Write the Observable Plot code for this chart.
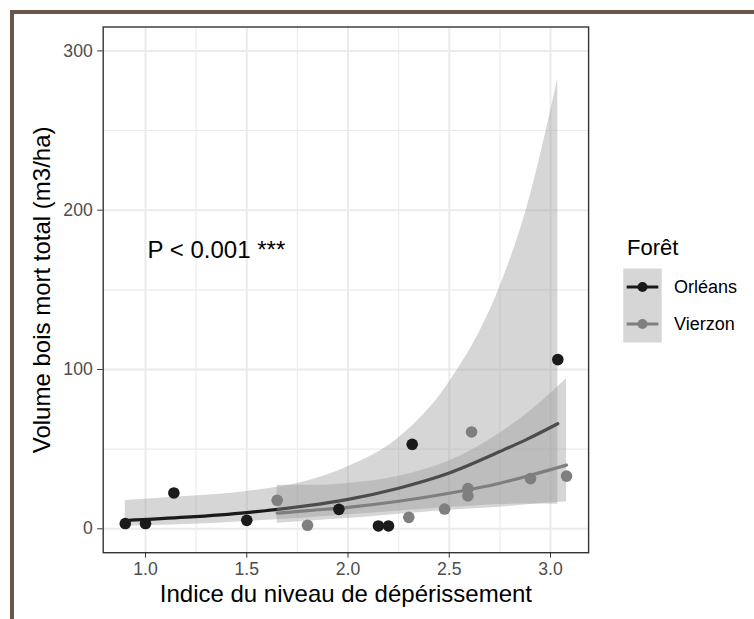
<!DOCTYPE html>
<html><head><meta charset="utf-8">
<script src="https://cdn.jsdelivr.net/npm/d3@7"></script>
<script src="https://cdn.jsdelivr.net/npm/@observablehq/plot@0.6"></script>
<style>
body{margin:0;background:#fff;font-family:"Liberation Sans",Arial,sans-serif;}
#wrap{position:relative;width:754px;height:619px;overflow:hidden;background:#fff;}
#frame{position:absolute;left:10px;top:10px;width:760px;height:630px;border-top:4px solid #6c5648;border-left:4px solid #6c5648;}
#wrap svg{position:absolute;left:0;top:0;}
[aria-label^="x-axis"] text,[aria-label^="y-axis"] text{fill:#4d4d4d;}
[aria-label^="x-axis"] line,[aria-label^="y-axis"] line,[aria-label^="x-axis"] path,[aria-label^="y-axis"] path{stroke:#333333;}
</style></head><body><div id="wrap"><div id="frame"></div></div>
<script>
// ---- data ----
const forets = ["Orléans", "Vierzon"];
const colors = ["#1a1a1a", "#7f7f7f"];

const orlX = [0.9, 1.0, 1.14, 1.5, 1.955, 2.15, 2.2, 2.317, 3.036];
const orlY = [3.3, 3.3, 22.5, 5.3, 12.2, 1.8, 1.8, 53.0, 106.2];
const vieX = [1.65, 1.8, 2.3, 2.477, 2.592, 2.592, 2.61, 2.901, 3.079];
const vieY = [17.9, 2.2, 7.2, 12.4, 25.2, 20.6, 60.8, 31.5, 33.1];

// fitted curves and confidence bands
const orlFitX = [0.9, 1.2, 1.5, 1.8, 2.0, 2.25, 2.5, 2.75, 2.88, 3.036];
const orlFit  = [5.2, 7.3, 10.2, 14.5, 18.5, 25.5, 35, 48.5, 56, 66];
const orlLow  = [1.6, 2.7, 4.6, 7, 8.8, 11.2, 13.3, 15.3, 15.6, 15.4];
const orlHigh = [17.8, 20.3, 23.4, 30, 39, 57, 92, 152, 200, 282.5];
const vieFitX = [1.65, 1.8, 2.0, 2.25, 2.5, 2.75, 2.9, 3.079];
const vieFit  = [9.8, 11.4, 13.5, 17.3, 22.3, 28.6, 33.6, 40];
const vieLow  = [3.5, 4.8, 6.4, 9.1, 11.7, 13.6, 15.3, 17];
const vieHigh = [27.4, 27.3, 28.5, 33, 42.5, 60, 74, 94.2];

const xTicks = [1.0, 1.5, 2.0, 2.5, 3.0];
const xMinor = [1.25, 1.75, 2.25, 2.75];
const yTicks = [0, 100, 200, 300];
const yMinor = [50, 150, 250];

const xTitle = "Indice du niveau de dépérissement";
const yTitle = "Volume bois mort total (m3/ha)";
const legendTitle = "Forêt";
const annotation = [{x: 1.35, y: 175, label: "P < 0.001 ***"}];

// ---- build tables ----
const points = [
  ...orlX.map((x, i) => ({x, y: orlY[i], f: forets[0]})),
  ...vieX.map((x, i) => ({x, y: vieY[i], f: forets[1]}))
];
const orlSmooth = orlFitX.map((x, i) => ({x, fit: orlFit[i], lo: orlLow[i], hi: orlHigh[i]}));
const vieSmooth = vieFitX.map((x, i) => ({x, fit: vieFit[i], lo: vieLow[i], hi: vieHigh[i]}));
const colorOf = f => colors[forets.indexOf(f)];

const chart = Plot.plot({
  width: 754, height: 619,
  marginLeft: 102.7, marginRight: 165.9, marginTop: 26.5, marginBottom: 66.8,
  style: {fontFamily: "'Liberation Sans', Arial, sans-serif", fontSize: "17.6px", color: "#333", background: "transparent", overflow: "visible"},
  x: {domain: [0.791, 3.188], ticks: xTicks, tickFormat: d3.format(".1f"), tickSize: 5.5, tickPadding: 4.4, label: null},
  y: {domain: [-15, 315], ticks: yTicks, tickSize: 5.5, tickPadding: 5, label: null},
  marks: [
    Plot.ruleY(yMinor, {stroke: "#ebebeb", strokeWidth: 1.1}),
    Plot.ruleX(xMinor, {stroke: "#ebebeb", strokeWidth: 1.1}),
    Plot.ruleY(yTicks, {stroke: "#ebebeb", strokeWidth: 2}),
    Plot.ruleX(xTicks, {stroke: "#ebebeb", strokeWidth: 2}),
    Plot.areaY(orlSmooth, {x: "x", y1: "lo", y2: "hi", fill: "#999999", fillOpacity: 0.4, curve: "monotone-x"}),
    Plot.line(orlSmooth, {x: "x", y: "fit", stroke: colors[0], strokeWidth: 3.2, curve: "monotone-x"}),
    Plot.areaY(vieSmooth, {x: "x", y1: "lo", y2: "hi", fill: "#999999", fillOpacity: 0.4, curve: "monotone-x"}),
    Plot.line(vieSmooth, {x: "x", y: "fit", stroke: colors[1], strokeWidth: 3.2, curve: "monotone-x"}),
    Plot.dot(points, {x: "x", y: "y", r: 5.8, fill: d => colorOf(d.f), stroke: "none"}),
    Plot.text(annotation, {x: "x", y: "y", text: "label", fontSize: 24, fill: "#000"}),
    Plot.text([xTitle], {frameAnchor: "bottom", textAnchor: "middle", lineAnchor: "middle", dy: 42, text: d => d, fontSize: 24, fill: "#000"}),
    Plot.text([yTitle], {frameAnchor: "left", textAnchor: "middle", lineAnchor: "middle", dx: -61, rotate: -90, text: d => d, fontSize: 24, fill: "#000"}),
    Plot.frame({stroke: "#333333", strokeWidth: 1.4})
  ]
});
document.getElementById("wrap").appendChild(chart);

// ---- legend ----
const leg = d3.select("#wrap").append("svg")
  .attr("width", 754).attr("height", 619)
  .style("font-family", "'Liberation Sans', Arial, sans-serif");
leg.append("text").attr("x", 627).attr("y", 255).attr("font-size", 22).attr("fill", "#000").text(legendTitle);
const keyTop = 268.5, keyH = 37, keyX = 623.3, keyW = 38.4;
leg.append("rect").attr("x", keyX).attr("y", keyTop).attr("width", keyW).attr("height", keyH * forets.length).attr("fill", "#d6d6d6");
forets.forEach((f, i) => {
  const cy = keyTop + keyH * (i + 0.5);
  leg.append("line").attr("x1", keyX + 3.4).attr("x2", keyX + keyW - 3.4).attr("y1", cy).attr("y2", cy)
    .attr("stroke", colors[i]).attr("stroke-width", 3.2);
  leg.append("circle").attr("cx", keyX + keyW / 2).attr("cy", cy).attr("r", 5).attr("fill", colors[i]);
  leg.append("text").attr("x", 674).attr("y", cy).attr("dy", "0.35em").attr("font-size", 18).attr("fill", "#000").text(f);
});
</script></body></html>
